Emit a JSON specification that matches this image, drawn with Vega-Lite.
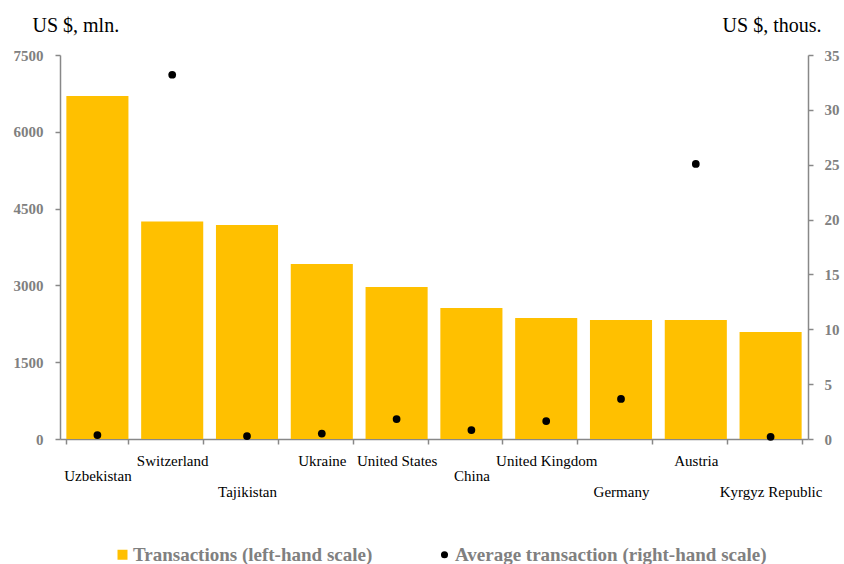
{
  "$schema": "https://vega.github.io/schema/vega-lite/v6.json",
  "width": 748,
  "height": 384,
  "autosize": "none",
  "padding": {"left": 60, "top": 55, "right": 36, "bottom": 125},
  "background": "white",
  "config": {"view": {"stroke": null}, "font": "Liberation Serif"},
  "data": {
    "values": [
      {"country": "Uzbekistan", "transactions": 6700, "average": 0.36},
      {"country": "Switzerland", "transactions": 4250, "average": 33.2},
      {"country": "Tajikistan", "transactions": 4180, "average": 0.27},
      {"country": "Ukraine", "transactions": 3420, "average": 0.5},
      {"country": "United States", "transactions": 2970, "average": 1.82},
      {"country": "China", "transactions": 2560, "average": 0.82},
      {"country": "United Kingdom", "transactions": 2365, "average": 1.64},
      {"country": "Germany", "transactions": 2325, "average": 3.65},
      {"country": "Austria", "transactions": 2325, "average": 25.07},
      {"country": "Kyrgyz Republic", "transactions": 2090, "average": 0.2}
    ]
  },
  "encoding": {
    "x": {
      "field": "country",
      "type": "nominal",
      "sort": null,
      "scale": {"paddingInner": 0.17, "paddingOuter": 0.085},
      "axis": {
        "title": null,
        "labelAngle": 0,
        "labelFont": "Liberation Serif",
        "labelFontSize": 15,
        "labelColor": "black",
        "labelOverlap": false,
        "labelBaseline": "top",
        "labelPadding": {
          "condition": {"test": "indexof(['Tajikistan','Germany','Kyrgyz Republic'], datum.value) >= 0", "value": 24.5},
          "value": 9
        },
        "labelLineHeight": 15.5,
        "labelLimit": 300,
        "labelExpr": "indexof(['Uzbekistan','China','Tajikistan','Germany','Kyrgyz Republic'], datum.value) >= 0 ? ['\u00a0', datum.value] : datum.value",
        "tickBand": "extent",
        "tickSize": 5,
        "tickColor": "#888888",
        "tickWidth": 1.5,
        "domainColor": "#888888",
        "domainWidth": 1.5,
        "grid": false
      }
    }
  },
  "layer": [
    {
      "mark": {"type": "bar"},
      "encoding": {
        "y": {
          "field": "transactions",
          "type": "quantitative",
          "scale": {"domain": [0, 7500], "nice": false},
          "axis": {
            "title": "US $, mln.",
            "titleAngle": 0,
            "titleAlign": "left",
            "titleBaseline": "middle",
            "titleX": -28,
            "titleY": -30,
            "titleFont": "Liberation Serif",
            "titleFontSize": 20,
            "titleFontWeight": "normal",
            "titleColor": "black",
            "values": [0, 1500, 3000, 4500, 6000, 7500],
            "format": "d",
            "labelFont": "Liberation Serif",
            "labelFontSize": 15,
            "labelFontWeight": "bold",
            "labelColor": "#808080",
            "labelPadding": 12,
            "tickSize": 5,
            "tickColor": "#888888",
            "tickWidth": 1.5,
            "domainColor": "#888888",
            "domainWidth": 1.5,
            "grid": false
          }
        },
        "color": {
          "datum": "Transactions (left-hand scale)",
          "scale": {
            "domain": ["Transactions (left-hand scale)", "Average transaction (right-hand scale)"],
            "range": ["#FFC000", "#000000"]
          },
          "legend": {
            "orient": "none",
            "legendX": 53,
            "legendY": 490,
            "direction": "horizontal",
            "title": null,
            "labelFont": "Liberation Serif",
            "labelFontSize": 19,
            "labelFontWeight": "bold",
            "labelColor": "#808080",
            "labelLimit": 500,
            "columnPadding": 62,
            "labelOffset": 1,
            "symbolStrokeWidth": 0,
            "encode": {
              "symbols": {
                "update": {
                  "shape": {"signal": "datum.value === 'Transactions (left-hand scale)' ? 'square' : 'circle'"},
                  "size": {"signal": "datum.value === 'Transactions (left-hand scale)' ? 100 : 50"}
                }
              }
            }
          }
        }
      }
    },
    {
      "mark": {"type": "point", "filled": true, "shape": "circle", "size": 60, "opacity": 1},
      "encoding": {
        "y": {
          "field": "average",
          "type": "quantitative",
          "scale": {"domain": [0, 35], "nice": false},
          "axis": {
            "orient": "right",
            "title": "US $, thous.",
            "titleAngle": 0,
            "titleAlign": "right",
            "titleBaseline": "middle",
            "titleX": 13,
            "titleY": -30,
            "titleFont": "Liberation Serif",
            "titleFontSize": 20,
            "titleFontWeight": "normal",
            "titleColor": "black",
            "values": [0, 5, 10, 15, 20, 25, 30, 35],
            "labelFont": "Liberation Serif",
            "labelFontSize": 15,
            "labelFontWeight": "bold",
            "labelColor": "#808080",
            "labelPadding": 11,
            "tickSize": 5,
            "tickColor": "#888888",
            "tickWidth": 1.5,
            "domainColor": "#888888",
            "domainWidth": 1.5,
            "grid": false
          }
        },
        "color": {"datum": "Average transaction (right-hand scale)"}
      }
    }
  ],
  "resolve": {"scale": {"y": "independent"}}
}
